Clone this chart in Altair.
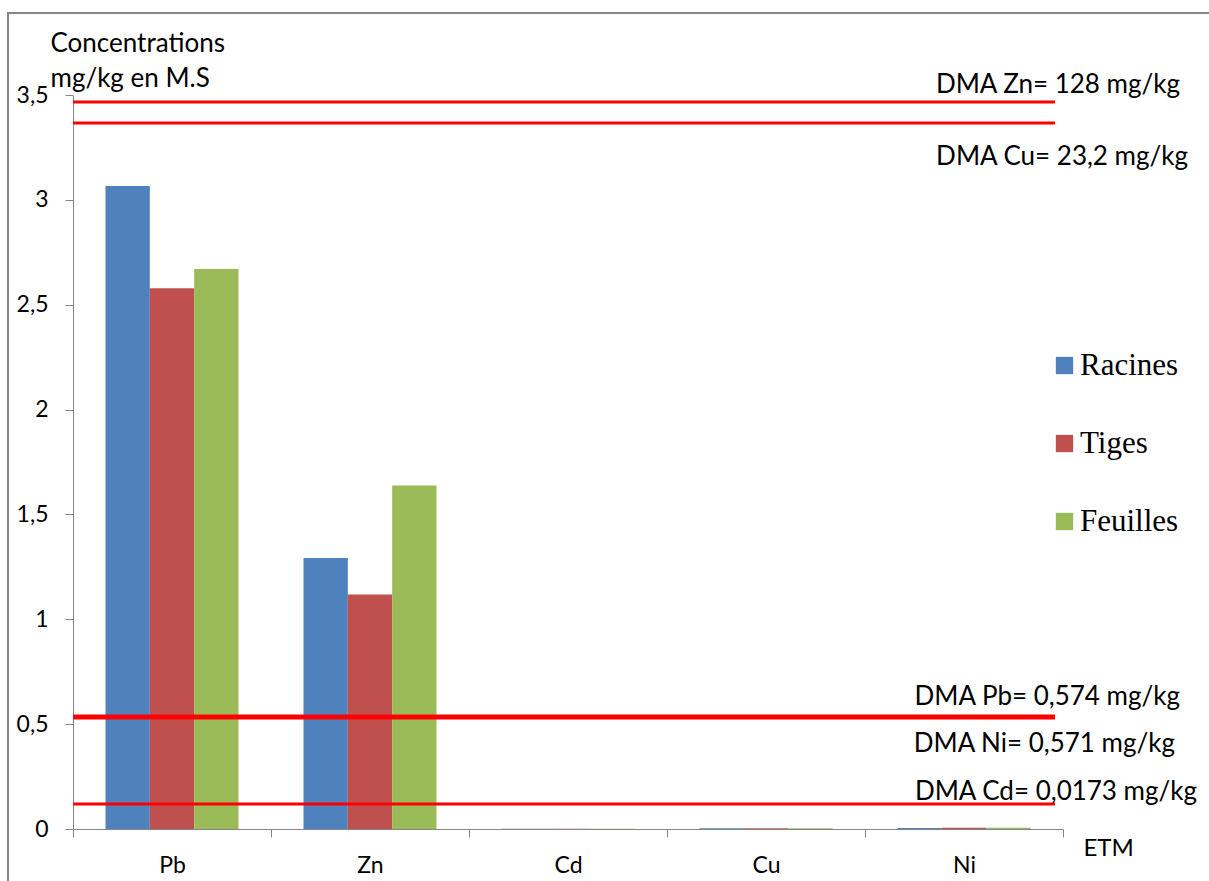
import altair as alt
import pandas as pd

metals = ["Pb", "Zn", "Cd", "Cu", "Ni"]
series = ["Racines", "Tiges", "Feuilles"]
racines = [3.066, 1.292, 0.001, 0.004, 0.005]
tiges = [2.578, 1.118, 0.001, 0.004, 0.006]
feuilles = [2.670, 1.638, 0.001, 0.004, 0.006]
colors = ["#4F81BD", "#C0504D", "#9BBB59"]

# positions where the red threshold lines are drawn
line_names = ["Zn", "Cu", "Pb", "Cd"]
line_values = [3.467, 3.367, 0.534, 0.119]
line_widths = [3, 3, 5, 3]

rows = []
for i, m in enumerate(metals):
    for s, vals in zip(series, [racines, tiges, feuilles]):
        rows.append({"metal": m, "serie": s, "value": vals[i]})
df = pd.DataFrame(rows)

W, H = 990, 734
axis_color = "#868686"
font_c = "Lato"

bars = alt.Chart(df).mark_bar().encode(
    x=alt.X("metal:N", sort=metals,
            scale=alt.Scale(paddingInner=0, paddingOuter=0),
            axis=alt.Axis(title="ETM", labelAngle=0, labelFont=font_c, labelFontSize=23,
                          labelColor="black", labelPadding=17, labelBaseline="top",
                          domainColor=axis_color, tickColor=axis_color, tickSize=8,
                          tickBand="extent",
                          titleFont=font_c, titleFontSize=24, titleFontWeight="normal",
                          titleColor="black", titleX=1010, titleY=19, titleAlign="left",
                          titleBaseline="middle")),
    xOffset=alt.XOffset("serie:N", sort=series,
                        scale=alt.Scale(paddingInner=0, paddingOuter=0.733)),
    y=alt.Y("value:Q", scale=alt.Scale(domain=[0, 3.5], nice=False),
            axis=alt.Axis(values=[0, 0.5, 1, 1.5, 2, 2.5, 3, 3.5],
                          labelExpr="replace(format(datum.value, '~g'), '.', ',')",
                          grid=False, labelFont=font_c, labelFontSize=23, labelColor="black",
                          labelPadding=17, tickSize=8, domainColor=axis_color,
                          tickColor=axis_color,
                          title=["Concentrations", "mg/kg en M.S"], titleAngle=0,
                          titleFont=font_c, titleFontSize=26, titleFontWeight="normal",
                          titleColor="black", titleX=-23, titleY=-52, titleAlign="left",
                          titleBaseline="middle", titleLineHeight=35)),
    color=alt.Color("serie:N", sort=series,
                    scale=alt.Scale(domain=series, range=colors),
                    legend=alt.Legend(title=None, orient="none", legendX=976, legendY=255,
                                      symbolType="square", symbolSize=300,
                                      symbolStrokeWidth=0, labelFont="Liberation Serif",
                                      labelFontSize=31, labelColor="black",
                                      rowPadding=46, labelOffset=0)),
)

lines_df = pd.DataFrame({"name": line_names, "v": line_values, "w": line_widths})
rules = alt.Chart(lines_df).mark_rule(color="#FF0000").encode(
    y="v:Q",
    x=alt.value(0),
    x2=alt.value(982),
    strokeWidth=alt.StrokeWidth("w:Q", scale=None, legend=None),
)

ann_text = ["DMA Zn= 128 mg/kg", "DMA Cu= 23,2 mg/kg", "DMA Pb= 0,574 mg/kg",
            "DMA Ni= 0,571 mg/kg", "DMA Cd= 0,0173 mg/kg"]
ann_anchor = [3.467, 3.367, 0.534, 0.534, 0.119]
ann_dy = [-17, 34, -20, 27, -12]
ann_x = [1107, 1115, 1107, 1102, 1124]

texts = []
for t, a, dy, xx in zip(ann_text, ann_anchor, ann_dy, ann_x):
    texts.append(
        alt.Chart(pd.DataFrame({"t": [t], "a": [a]})).mark_text(
            align="right", baseline="middle", font=font_c, fontSize=26, dy=dy,
            color="black"
        ).encode(y="a:Q", x=alt.value(xx), text="t:N")
    )

border = alt.Chart(pd.DataFrame({"k": [0]})).mark_rect(
    fill=None, stroke=axis_color, strokeWidth=2
).encode(x=alt.value(-65), y=alt.value(-82), x2=alt.value(1145), y2=alt.value(820))

chart = alt.layer(border, bars, rules, *texts).properties(
    width=W, height=H,
    autosize=alt.AutoSizeParams(type="none"),
    padding={"left": 73, "top": 95, "right": 146, "bottom": 52},
).configure_view(stroke=None)

chart.save("out.html", embed_options={"renderer": "svg", "actions": False})
